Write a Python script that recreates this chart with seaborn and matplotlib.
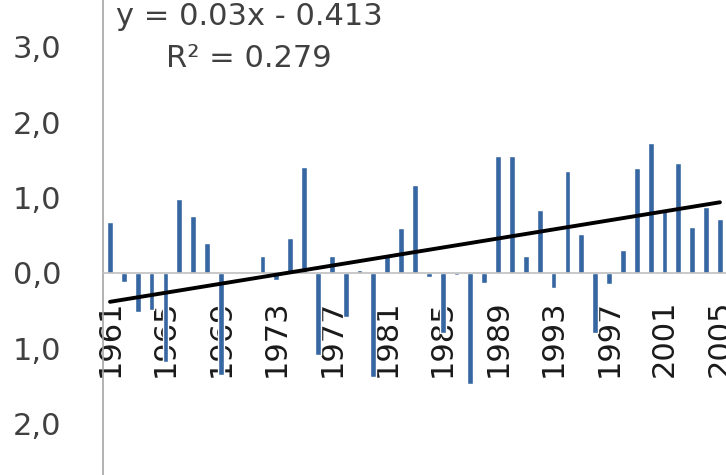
import numpy as np
import pandas as pd
import matplotlib
matplotlib.use('Agg')
import matplotlib.pyplot as plt
import seaborn as sns

# -------------------------------------------------------
# Data
# -------------------------------------------------------
years = list(range(1961, 2006))
anomaly = [0.68, -0.12, -0.52, -0.49, -1.18, 0.98, 0.76, 0.40, -1.36, 0.00,
           0.00, 0.23, -0.09, 0.47, 1.40, -1.09, 0.23, -0.58, 0.04, -1.38,
           0.22, 0.59, 1.17, -0.05, -0.80, -0.03, -1.47, -0.14, 1.55, 1.55,
           0.23, 0.83, -0.20, 1.35, 0.51, -0.80, -0.15, 0.30, 1.39, 1.73,
           0.82, 1.46, 0.61, 0.88, 0.71]

# linear trend shown on the chart: y = a*x + b, x = 1..n
trend_a = 0.03
trend_b = -0.413
trend_r2 = 0.279

tick_years = years[::4]
y_ticks = [-2, -1, 0, 1, 2, 3]
y_tick_labels = ['2,0', '1,0', '0,0', '1,0', '2,0', '3,0']

df = pd.DataFrame({'year': years, 'anomaly': anomaly})

# -------------------------------------------------------
# Plot
# -------------------------------------------------------
sns.set_style('white')
plt.rcParams['font.family'] = ['DejaVu Sans']

fig = plt.figure(figsize=(7.26, 4.75), dpi=100)
ax = fig.add_axes([103 / 726, 0, 623 / 726, 1])
ax.set_axisbelow(True)  # bars run over the year labels, like the original

sns.barplot(data=df, x='year', y='anomaly', color='#3767A2', saturation=1,
            width=0.42, ax=ax)

xs = np.arange(len(years))
ax.plot(xs, trend_a * (xs + 1) + trend_b, color='black', lw=2.8, zorder=5)

ax.set_xlim(-0.505, 44.44)
ax.set_ylim(-2.68, 3.62)

ax.set_xticks([years.index(y) for y in tick_years],
              labels=[str(y) for y in tick_years])
ax.set_yticks(y_ticks, labels=y_tick_labels)
ax.tick_params(axis='x', length=0, pad=19, labelrotation=90, labelsize=22,
               labelcolor='#1a1a1a')
ax.tick_params(axis='y', length=0, pad=30, labelsize=22, labelcolor='#404040')
ax.set_xlabel('')
ax.set_ylabel('')

for s in ['top', 'right']:
    ax.spines[s].set_visible(False)
ax.spines['bottom'].set_position(('data', 0))
ax.spines['bottom'].set_color('#c0c0c0')
ax.spines['bottom'].set_linewidth(1.2)
ax.spines['left'].set_color('#a6a6a6')
ax.spines['left'].set_linewidth(1.2)

# trendline label, partly cut off at the top like the original
fig.text(249 / 726, 1 - 25 / 475, f'y = {trend_a}x - {abs(trend_b)}',
         ha='center', va='baseline', fontsize=22, color='#404040')
fig.text(249 / 726, 1 - 67 / 475, f'R² = {trend_r2}',
         ha='center', va='baseline', fontsize=22, color='#404040')

plt.savefig('out.png', dpi=100)
plt.close()
